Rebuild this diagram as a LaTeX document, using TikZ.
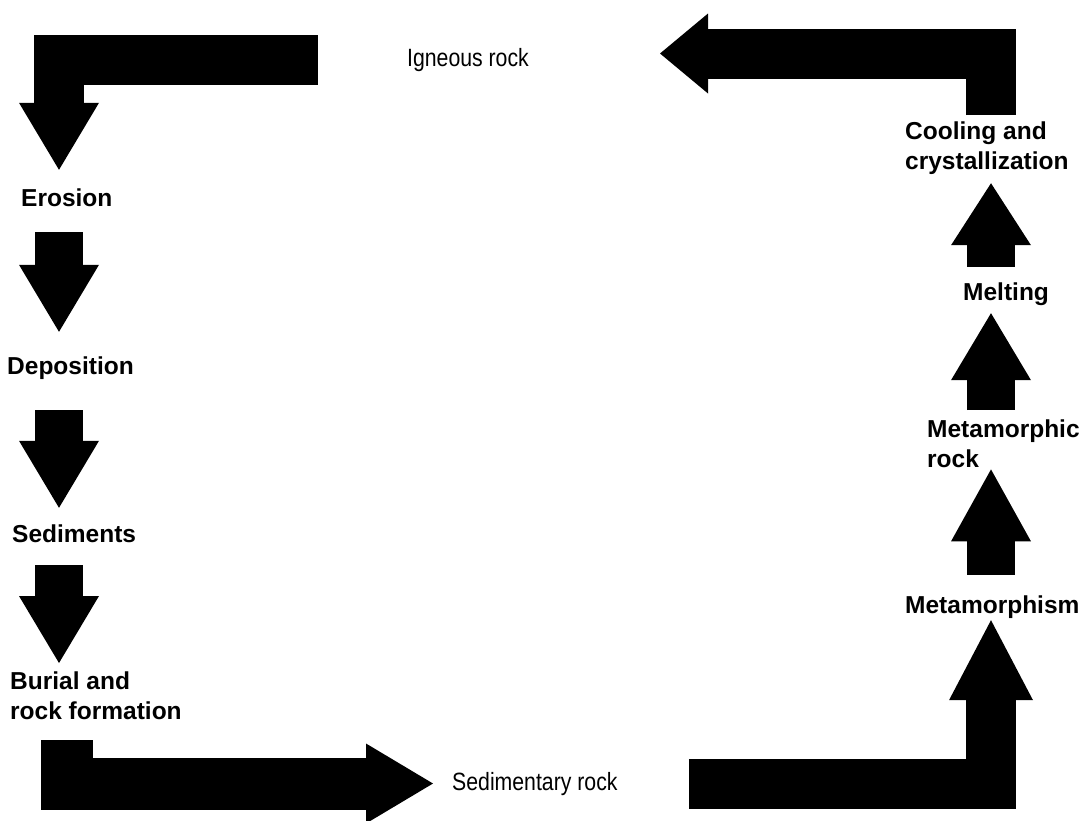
\documentclass[tikz,border=0pt]{standalone}
\usepackage{fontspec}
\setmainfont{Liberation Sans}
\newfontfamily\rockfont[FakeStretch=0.85]{Liberation Sans}
\usetikzlibrary{arrows.meta}
\tikzset{
    stage/.style = {inner sep=0pt,text height=18pt,text depth=5pt,font=\fontsize{24.5}{30}\selectfont\bfseries},
    stages/.style = {inner sep=0pt,align=left,font=\fontsize{24.5}{30}\selectfont\bfseries},
    rocktype/.style = {inner sep=0pt,text height=18pt,text depth=5pt,font=\fontsize{25}{30}\selectfont\rockfont},
    flow/.style = {line width=48pt,-{Triangle[length=67pt,width=80pt,line width=0pt]}},
    x=1pt, y=-1pt
}

\begin{document}
\begin{tikzpicture}
    \path[use as bounding box,fill=white] (0,0) rectangle (1092,820);

    % columns of the stacked arrows
    \coordinate (lcol) at (59,0);
    \coordinate (bcol) at (67,0);
    \coordinate (rcol) at (991,0);

    % rock types
    \node[rocktype] (ign)  [anchor=base] at (468,66)  {Igneous rock};
    \node[rocktype] (sedr) [anchor=base west] at (452,790) {Sedimentary rock};

    % left side
    \node[stage]  (ero) [anchor=base west]  at (21,206) {Erosion};
    \node[stage]  (dep) [anchor=base west]  at (7,374)  {Deposition};
    \node[stage]  (sed) [anchor=base west]  at (12,542) {Sediments};
    \node[stages] (bur) [anchor=north west] at (10,672) {Burial and\\rock formation};

    % right side
    \node[stage]  (mism)  [anchor=base west]  at (905,613) {Metamorphism};
    \node[stages] (mrock) [anchor=north west] at (927,420) {Metamorphic\\rock};
    \node[stage]  (melt)  [anchor=base west]  at (963,300) {Melting};
    \node[stages] (cool)  [anchor=north west] at (905,122) {Cooling and\\crystallization};

    \draw[flow,line width=50pt,shorten <=89pt,shorten >=18pt] (ign.west) -| (ero.north -| lcol);
    \draw[flow,shorten <=21pt,shorten >=24pt] (ero.south -| lcol) -- (dep.north -| lcol);
    \draw[flow,shorten <=31pt,shorten >=16pt] (dep.south -| lcol) -- (sed.north -| lcol);
    \draw[flow,shorten <=18pt,shorten >=9pt]  (sed.south -| lcol) -- (bur.north -| lcol);
    \draw[flow,line width=52pt,shorten <=20pt,shorten >=19pt] (bur.south -| bcol) |- (sedr.west);

    \draw[flow,line width=50pt,-{Triangle[length=80pt,width=84pt,line width=0pt]},shorten <=71pt,shorten >=2pt] (sedr.east) -| (mism.south -| rcol);
    \draw[flow,-{Triangle[length=72pt,width=80pt,line width=0pt]},shorten <=20pt,shorten >=1pt] (mism.north -| rcol) -- (mrock.south -| rcol);
    \draw[flow,shorten <=10pt,shorten >=8pt] (mrock.north -| rcol) -- (melt.south -| rcol);
    \draw[flow,-{Triangle[length=62pt,width=80pt,line width=0pt]},shorten <=15pt,shorten >=8pt] (melt.north -| rcol) -- (cool.south -| rcol);
    \draw[flow,line width=50pt,-{Triangle[length=48pt,width=80pt,line width=0pt]},shorten <=7pt,shorten >=131pt] (cool.north -| rcol) |- ([yshift=6pt]ign.east);
\end{tikzpicture}
\end{document}
